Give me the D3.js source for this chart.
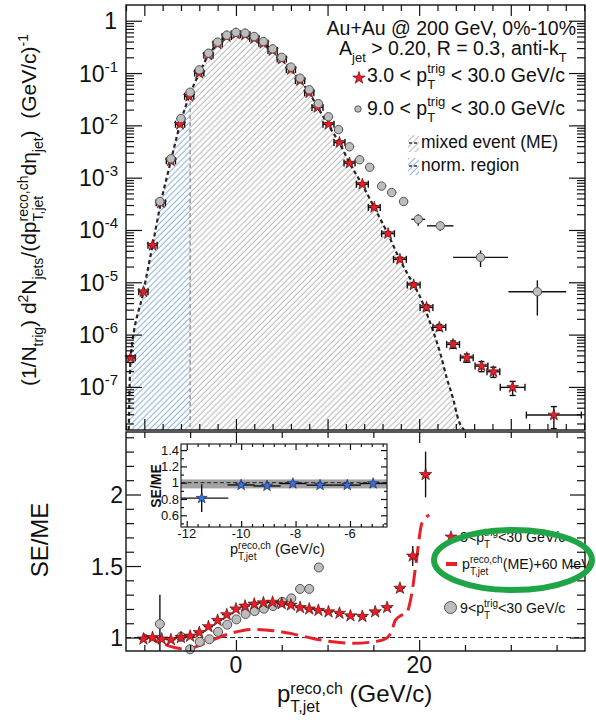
<!DOCTYPE html>
<html>
<head>
<meta charset="utf-8">
<script src="https://cdn.jsdelivr.net/npm/d3@7"></script>
<style>
  html, body { margin: 0; padding: 0; background: #fff; }
  svg { display: block; font-family: "Liberation Sans", Arial, Helvetica, sans-serif; }
  text { white-space: pre; fill: #111; }
</style>
</head>
<body>
<svg id="chart" width="596" height="722"></svg>
<script>
// ---------- upper panel: per-trigger jet yield ----------
// 3 < pT,trig < 30 GeV/c (red stars)
const redTopX = [-11.5, -10.1, -9.1, -8.2, -7.1, -6.1, -5.1, -4.0, -3.0, -2.0, -1.0, 0.0, 1.0, 2.0, 3.0, 4.0, 5.0, 6.0, 7.0, 8.0,
                 8.9, 10.1, 11.3, 12.4, 13.8, 15.1, 16.6, 17.9, 19.4, 20.8, 22.2, 23.7, 25.2, 26.8, 28.1, 30.2, 34.7];
const redTopY = [3.6e-7, 6.6e-6, 5.1e-5, 3.3e-4, 2.1e-3, 1.05e-2, 3.6e-2, 0.10, 0.22, 0.36, 0.50, 0.56, 0.54, 0.46, 0.37, 0.27, 0.185, 0.117, 0.072, 0.042,
                 0.022, 1.05e-2, 4.7e-3, 1.9e-3, 7.5e-4, 2.7e-4, 8.5e-5, 2.75e-5, 8.9e-6, 3.3e-6, 1.38e-6, 6.5e-7, 3.6e-7, 2.5e-7, 1.95e-7, 9.8e-8, 2.9e-8];
const redTopXErr = [0.5, 0.5, 0.5, 0.5, 0.5, 0.5, 0.5, 0.5, 0.5, 0.5, 0.5, 0.5, 0.5, 0.5, 0.5, 0.5, 0.5, 0.5, 0.5, 0.5,
                    0.6, 0.6, 0.6, 0.6, 0.65, 0.65, 0.7, 0.7, 0.7, 0.7, 0.7, 0.7, 0.7, 0.7, 0.7, 1.35, 3.0];
const redTopRelErr = [0.05, 0.05, 0.05, 0.05, 0.05, 0.05, 0.05, 0.05, 0.05, 0.05, 0.05, 0.05, 0.05, 0.05, 0.05, 0.05, 0.05, 0.05, 0.05, 0.05,
                      0.05, 0.05, 0.05, 0.05, 0.06, 0.07, 0.08, 0.09, 0.10, 0.12, 0.13, 0.16, 0.18, 0.22, 0.22, 0.30, 0.45];

// 9 < pT,trig < 30 GeV/c (grey circles)
const greyTopX = [-8.3, -7.1, -6.0, -5.0, -4.0, -3.0, -2.0, -1.0, 0.0, 1.0, 2.0, 3.0, 4.0, 5.0, 6.0, 7.0, 8.0, 9.0, 10.1, 11.2,
                  12.4, 13.5, 14.6, 15.9, 17.0, 18.3, 19.9, 22.3, 26.7, 32.9];
const greyTopY = [3.5e-4, 2.3e-3, 1.35e-2, 4.3e-2, 0.115, 0.24, 0.39, 0.53, 0.60, 0.58, 0.50, 0.40, 0.29, 0.20, 0.13, 0.08, 0.048, 0.026, 1.46e-2, 8.3e-3,
                  3.9e-3, 2.2e-3, 1.58e-3, 6.9e-4, 5.2e-4, 3.5e-4, 1.6e-4, 1.2e-4, 3.0e-5, 6.6e-6];
const greyTopXErr = [0.5, 0.5, 0.5, 0.5, 0.5, 0.5, 0.5, 0.5, 0.5, 0.5, 0.5, 0.5, 0.5, 0.5, 0.5, 0.5, 0.5, 0.5, 0.5, 0.5,
                     0.5, 0.5, 0.5, 0.5, 0.5, 0.5, 0.75, 1.45, 3.0, 3.15];
const greyTopRelErr = [0.05, 0.05, 0.05, 0.05, 0.05, 0.05, 0.05, 0.05, 0.05, 0.05, 0.05, 0.05, 0.05, 0.05, 0.05, 0.05, 0.05, 0.05, 0.05, 0.05,
                       0.05, 0.05, 0.05, 0.05, 0.05, 0.05, 0.25, 0.2, 0.35, 0.65];

// mixed-event (ME) distribution
const meX = [-11.7, -11.5, -10.1, -9.1, -8.2, -7.1, -6.1, -5.1, -4.0, -3.0, -2.0, -1.0, 0.0, 1.0, 2.0, 3.0, 4.0, 5.0, 6.0, 7.0, 8.0, 9.0,
             10.1, 11.3, 12.4, 13.8, 15.1, 16.6, 17.9, 19.4, 20.1, 20.8, 21.5, 22.3, 23.0, 23.7, 24.3, 24.9];
const meY = [1.5e-8, 3.6e-7, 6.6e-6, 5.1e-5, 3.3e-4, 2.1e-3, 1.05e-2, 3.6e-2, 0.10, 0.22, 0.36, 0.50, 0.56, 0.54, 0.46, 0.37, 0.27, 0.185, 0.117, 0.072, 0.042, 0.021,
             1.0e-2, 4.6e-3, 1.9e-3, 7.3e-4, 2.7e-4, 8.3e-5, 2.7e-5, 8.9e-6, 5.3e-6, 2.6e-6, 1.2e-6, 4.4e-7, 1.5e-7, 6.0e-8, 2.3e-8, 1.5e-8];
const normRegionEdge = -5;

const topTickExponents = [0, -1, -2, -3, -4, -5, -6, -7];

// ---------- lower panel: SE/ME ratio ----------
const redRatioX = [-10.1, -9.1, -8.1, -7.1, -6.0, -5.0, -4.0, -3.0, -2.0, -1.0, 0.0, 1.0, 2.0, 3.0, 4.0, 5.0, 6.0, 7.0, 8.0, 9.0,
                   10.1, 11.3, 12.5, 13.8, 15.2, 16.5, 17.9, 19.3, 20.7];
const redRatioY = [0.99, 1.0, 0.99, 0.985, 1.0, 1.01, 1.035, 1.076, 1.12, 1.16, 1.2, 1.22, 1.234, 1.243, 1.247, 1.237, 1.227, 1.21, 1.2, 1.19,
                   1.18, 1.17, 1.152, 1.148, 1.18, 1.21, 1.345, 1.57, 2.14];
const redRatioErr = [0.008, 0.008, 0.008, 0.008, 0.008, 0.008, 0.008, 0.008, 0.008, 0.008, 0.008, 0.008, 0.008, 0.008, 0.008, 0.008, 0.008, 0.008, 0.008, 0.008,
                     0.008, 0.008, 0.008, 0.01, 0.012, 0.015, 0.025, 0.07, 0.16];

const greyRatioX = [-8.3, -6.0, -5.0, -3.95, -2.9, -1.95, -0.95, 0.05, 1.05, 2.05, 3.05, 4.05, 5.05, 6.05, 7.0, 8.0, 9.05];
const greyRatioY = [1.095, 1.005, 0.918, 0.97, 0.988, 1.04, 1.09, 1.127, 1.165, 1.185, 1.202, 1.22, 1.25, 1.274, 1.34, 1.34, 1.49];
const greyRatioErr = [0.205, 0.01, 0.01, 0.01, 0.01, 0.01, 0.01, 0.01, 0.01, 0.01, 0.01, 0.01, 0.01, 0.01, 0.01, 0.01, 0.01];

// ratio with the ME spectrum shifted by +60 MeV
const shiftX = [-10.1, -9.0, -7.9, -6.7, -5.4, -3.9, -2.1, -0.3, 1.9, 4.1, 6.3, 8.4, 10.6, 12.8, 15.0, 16.3, 16.9, 17.4, 18.1, 18.6, 19.2, 19.7, 20.3, 21.1];
const shiftY = [1.02, 0.985, 0.955, 0.93, 0.918, 0.948, 0.995, 1.034, 1.057, 1.048, 1.024, 0.994, 0.97, 0.96, 0.97, 0.99, 1.03, 1.12, 1.157, 1.17, 1.31, 1.54, 1.8, 1.857];

const botXLabels = [0, 20];
const botYLabels = [1, 1.5, 2];

// ---------- inset: normalisation region ----------
const insetX = [-11.45, -10.0, -9.05, -8.1, -7.1, -6.1, -5.15];
const insetY = [0.81, 0.972, 0.96, 0.99, 0.97, 0.97, 0.99];
const insetXErr = [0.98, 0.5, 0.5, 0.5, 0.5, 0.5, 0.5];
const insetYErr = [0.17, 0.015, 0.015, 0.015, 0.015, 0.015, 0.015];
const insetBand = [0.93, 1.04];
const insetXLabels = [-12, -10, -8, -6];
const insetYLabels = [0.6, 0.8, 1, 1.2, 1.4];

// ---------- layout ----------
const L = 126, R = 585, T1 = 5, B1 = 430, T2 = 432, B2 = 651;
const IL = 181, IR = 387, IT = 444, IB = 527;
const RED = "#ee1d25", INK = "#111";

const svg = d3.select("#chart");
const defs = svg.append("defs");

const x = d3.scaleLinear().domain([-12, 38.1]).range([L, R]);
const yTop = d3.scaleLog().domain([1.5e-8, 2]).range([B1, T1]);
const yBot = d3.scaleLinear().domain([0.906, 2.437]).range([B2, T2]);
const xIn = d3.scaleLinear().domain([-12.21, -4.64]).range([IL, IR]);
const yIn = d3.scaleLinear().domain([0.456, 1.475]).range([IB, IT]);

function hatch(id, color) {
  const p = defs.append("pattern").attr("id", id).attr("patternUnits", "userSpaceOnUse")
    .attr("width", 4.2).attr("height", 4.2).attr("patternTransform", "rotate(45)");
  p.append("line").attr("x1", 2).attr("y1", -1).attr("x2", 2).attr("y2", 5.2)
    .attr("stroke", color).attr("stroke-width", 1.1);
}
hatch("hatchGrey", "#bdbdbd");
hatch("hatchBlue", "#93b5da");

function clip(id, x0, y0, x1, y1) {
  defs.append("clipPath").attr("id", id).append("rect")
    .attr("x", x0).attr("y", y0).attr("width", x1 - x0).attr("height", y1 - y0);
}
clip("clipTop", L, T1, R, B1);
clip("clipNorm", L, T1, x(normRegionEdge), B1);
clip("clipME", x(normRegionEdge), T1, R, B1);
clip("clipBot", L, T2, R, B2);
clip("clipIn", IL, IT, IR, IB);

// rich text with sub/superscripts; a third element "true" stacks the next piece at the same x
function rich(parent, parts, o) {
  const outer = parent.append("g").attr("transform", `translate(${o.x},${o.y}) rotate(${o.rotate || 0})`);
  const g = outer.append("g");
  const small = o.small || o.size * 0.65;
  const supDy = o.supDy !== undefined ? o.supDy : -o.size * 0.4;
  const subDy = o.subDy !== undefined ? o.subDy : o.size * 0.33;
  let cx = 0, stackStart = null, stackW = 0;
  parts.forEach(p => {
    const k = p[1] || "n";
    const fs = k === "n" ? o.size : small;
    const dy = k === "sup" ? supDy : k === "sub" ? subDy : 0;
    const t = g.append("text").attr("x", stackStart !== null ? stackStart : cx).attr("y", dy)
      .attr("font-size", fs).attr("font-weight", o.weight || "normal").text(p[0]);
    const w = t.node().getComputedTextLength();
    if (stackStart !== null) { cx = stackStart + Math.max(stackW, w); stackStart = null; }
    else if (p[2]) { stackStart = cx; stackW = w; }
    else cx += w;
  });
  const shift = o.anchor === "middle" ? -cx / 2 : o.anchor === "end" ? -cx : 0;
  g.attr("transform", `translate(${shift},0)`);
  return outer;
}

function ticks(parent, gen, tx, ty) {
  parent.append("g").attr("transform", `translate(${tx},${ty})`).attr("color", INK)
    .call(gen)
    .call(s => s.select(".domain").remove())
    .call(s => s.selectAll("text").remove())
    .call(s => s.selectAll("line").attr("stroke-width", 1.2));
}

const star = (size) => d3.symbol(d3.symbolStar, size)();

function errorBars(g, data, xs, ys, caps) {
  data.forEach(d => {
    const cy = ys(d.y), cx = xs(d.x);
    g.append("line").attr("x1", xs(d.x - d.xe)).attr("x2", xs(d.x + d.xe)).attr("y1", cy).attr("y2", cy);
    g.append("line").attr("x1", cx).attr("x2", cx).attr("y1", ys(d.ylo)).attr("y2", ys(d.yhi));
    if (caps) {
      [d.x - d.xe, d.x + d.xe].forEach(v => g.append("line").attr("x1", xs(v)).attr("x2", xs(v)).attr("y1", cy - 3.5).attr("y2", cy + 3.5));
      [d.ylo, d.yhi].forEach(v => g.append("line").attr("x1", cx - 3).attr("x2", cx + 3).attr("y1", ys(v)).attr("y2", ys(v)));
    }
  });
  g.attr("stroke", INK).attr("stroke-width", 1.4);
}

// =================== upper panel ===================
const upper = svg.append("g");
const meData = meX.map((v, i) => ({ x: v, y: meY[i] }));
const meArea = d3.area().x(d => x(d.x)).y0(B1).y1(d => yTop(d.y)).curve(d3.curveMonotoneX);
const meLine = d3.line().x(d => x(d.x)).y(d => yTop(d.y)).curve(d3.curveMonotoneX);

upper.append("path").datum(meData).attr("d", meArea).attr("fill", "url(#hatchBlue)").attr("clip-path", "url(#clipNorm)");
upper.append("path").datum(meData).attr("d", meArea).attr("fill", "url(#hatchGrey)").attr("clip-path", "url(#clipME)");

// boundary of the normalisation region, up to the ME curve
const iEdge = d3.bisectLeft(meX, normRegionEdge);
const edgeLog = d3.scaleLinear().domain([meX[iEdge - 1], meX[iEdge]])
  .range([Math.log10(meY[iEdge - 1]), Math.log10(meY[iEdge])])(normRegionEdge);
upper.append("line").attr("x1", x(normRegionEdge)).attr("x2", x(normRegionEdge))
  .attr("y1", yTop(Math.pow(10, edgeLog))).attr("y2", B1)
  .attr("stroke", "#9a9a9a").attr("stroke-width", 1.6).attr("stroke-dasharray", "4,3");

upper.append("path").datum(meData).attr("d", meLine).attr("fill", "none").attr("clip-path", "url(#clipTop)")
  .attr("stroke", "#262626").attr("stroke-width", 2.2).attr("stroke-dasharray", "4,3");

const redTop = redTopX.map((v, i) => ({ x: v, y: redTopY[i], xe: redTopXErr[i],
  ylo: redTopY[i] * (1 - redTopRelErr[i]), yhi: redTopY[i] * (1 + redTopRelErr[i]) }));
const greyTop = greyTopX.map((v, i) => ({ x: v, y: greyTopY[i], xe: greyTopXErr[i],
  ylo: greyTopY[i] * (1 - greyTopRelErr[i]), yhi: greyTopY[i] * (1 + greyTopRelErr[i]) }));

errorBars(upper.append("g").attr("clip-path", "url(#clipTop)"), redTop, x, yTop, true);
errorBars(upper.append("g").attr("clip-path", "url(#clipTop)"), greyTop, x, yTop, false);

upper.append("g").selectAll("path").data(redTop).join("path")
  .attr("d", star(42)).attr("transform", d => `translate(${x(d.x)},${yTop(d.y)})`)
  .attr("fill", RED).attr("stroke", "#3a0808").attr("stroke-width", 0.6);
upper.append("g").selectAll("circle").data(greyTop).join("circle")
  .attr("cx", d => x(d.x)).attr("cy", d => yTop(d.y)).attr("r", 4.2)
  .attr("fill", "#bdbdbd").attr("stroke", "#555").attr("stroke-width", 1);

// axes of the upper panel
const decades = topTickExponents.map(e => Math.pow(10, e));
const logMinor = [];
for (let e = -8; e <= 0; e++) for (let m = 2; m <= 9; m++) {
  const v = m * Math.pow(10, e);
  if (v > 1.5e-8 && v < 2) logMinor.push(v);
}
const xMajorTop = d3.range(-10, 31, 10);
const xMinorTop = d3.range(-12, 38.1, 2).filter(v => v % 10 !== 0);
ticks(upper, d3.axisLeft(yTop).tickValues(decades).tickSize(-16), L, 0);
ticks(upper, d3.axisLeft(yTop).tickValues(logMinor).tickSize(-8), L, 0);
ticks(upper, d3.axisRight(yTop).tickValues(decades).tickSize(-16), R, 0);
ticks(upper, d3.axisRight(yTop).tickValues(logMinor).tickSize(-8), R, 0);
ticks(upper, d3.axisBottom(x).tickValues(xMajorTop).tickSize(-11), 0, B1);
ticks(upper, d3.axisBottom(x).tickValues(xMinorTop).tickSize(-6), 0, B1);
ticks(upper, d3.axisTop(x).tickValues(xMajorTop).tickSize(-11), 0, T1);
ticks(upper, d3.axisTop(x).tickValues(xMinorTop).tickSize(-6), 0, T1);
upper.append("rect").attr("x", L).attr("y", T1).attr("width", R - L).attr("height", B1 - T1)
  .attr("fill", "none").attr("stroke", INK).attr("stroke-width", 1.4);

topTickExponents.forEach(e => {
  const yy = yTop(Math.pow(10, e)) + 8.5;
  if (e === 0) rich(upper, [["1"]], { x: 117, y: yy, size: 23, anchor: "end" });
  else rich(upper, [["10"], [String(e), "sup"]], { x: 118, y: yy, size: 23, small: 15, supDy: -10, anchor: "end" });
});

rich(svg, [["(1/N"], ["trig", "sub"], [") d"], ["2", "sup"], ["N"], ["jets", "sub"], ["/(dp"], ["reco,ch", "sup", true], ["T,jet", "sub"],
           ["d\u03b7"], ["jet", "sub"], [")  (GeV/c)"], ["-1", "sup"]],
     { x: 36, y: 210, size: 21, small: 14, supDy: -8, subDy: 7, anchor: "middle", rotate: -90 });

// legend of the upper panel
rich(svg, [["Au+Au @ 200 GeV, 0%-10%"]], { x: 576, y: 35, size: 19.5, anchor: "end" });
rich(svg, [["A"], ["jet", "sub"], [" > 0.20, R = 0.3, anti-k"], ["T", "sub"]], { x: 339, y: 55, size: 19.5, small: 13, subDy: 7 });
svg.append("path").attr("d", star(48)).attr("transform", "translate(359,78)").attr("fill", RED).attr("stroke", "#3a0808").attr("stroke-width", 0.6);
rich(svg, [["3.0 < p"], ["trig", "sup", true], ["T", "sub"], [" < 30.0 GeV/c"]], { x: 367, y: 82, size: 19.5, small: 13, supDy: -9, subDy: 7 });
svg.append("circle").attr("cx", 358).attr("cy", 109).attr("r", 3.2).attr("fill", "#bdbdbd").attr("stroke", "#555");
rich(svg, [["9.0 < p"], ["trig", "sup", true], ["T", "sub"], [" < 30.0 GeV/c"]], { x: 367, y: 115, size: 19.5, small: 13, supDy: -9, subDy: 7 });
[["hatchGrey", 135, "mixed event (ME)", 148], ["hatchBlue", 158, "norm. region", 171]].forEach(([pat, y0, label, base]) => {
  svg.append("rect").attr("x", 408).attr("y", y0).attr("width", 11).attr("height", 17).attr("fill", `url(#${pat})`);
  svg.append("line").attr("x1", 409).attr("x2", 419).attr("y1", y0 + 8).attr("y2", y0 + 8)
    .attr("stroke", "#333").attr("stroke-width", 1.6).attr("stroke-dasharray", "3,2");
  rich(svg, [[label]], { x: 421, y: base, size: 17.5 });
});

// =================== lower panel ===================
const lower = svg.append("g");
lower.append("line").attr("x1", L).attr("x2", R).attr("y1", yBot(1)).attr("y2", yBot(1))
  .attr("stroke", "#222").attr("stroke-width", 1).attr("stroke-dasharray", "5,3");

const shiftData = shiftX.map((v, i) => ({ x: v, y: shiftY[i] }));
lower.append("path").datum(shiftData).attr("clip-path", "url(#clipBot)")
  .attr("d", d3.line().x(d => x(d.x)).y(d => yBot(d.y)).curve(d3.curveMonotoneX))
  .attr("fill", "none").attr("stroke", "#e8202a").attr("stroke-width", 3).attr("stroke-dasharray", "17,7");

const redRatio = redRatioX.map((v, i) => ({ x: v, y: redRatioY[i], xe: 0.5, ylo: redRatioY[i] - redRatioErr[i], yhi: redRatioY[i] + redRatioErr[i] }));
const greyRatio = greyRatioX.map((v, i) => ({ x: v, y: greyRatioY[i], xe: 0.5, ylo: greyRatioY[i] - greyRatioErr[i], yhi: greyRatioY[i] + greyRatioErr[i] }));

errorBars(lower.append("g").attr("clip-path", "url(#clipBot)"), greyRatio, x, yBot, false);
lower.append("g").selectAll("circle").data(greyRatio).join("circle")
  .attr("cx", d => x(d.x)).attr("cy", d => yBot(d.y)).attr("r", 4.5)
  .attr("fill", "#bdbdbd").attr("stroke", "#555").attr("stroke-width", 1);
errorBars(lower.append("g").attr("clip-path", "url(#clipBot)"), redRatio, x, yBot, false);
lower.append("g").selectAll("path").data(redRatio).join("path")
  .attr("d", star(48)).attr("transform", d => `translate(${x(d.x)},${yBot(d.y)})`)
  .attr("fill", RED).attr("stroke", "#3a0808").attr("stroke-width", 0.6);

const xMajorBot = [0, 20];
const xMinorBot = d3.range(-10, 38, 5).filter(v => v % 20 !== 0);
const yMajorBot = [1, 1.5, 2];
const yMinorBot = d3.range(0.95, 2.44, 0.1).map(v => Math.round(v * 10) / 10).filter(v => v > 0.906 && !yMajorBot.includes(v));
ticks(lower, d3.axisLeft(yBot).tickValues(yMajorBot).tickSize(-15), L, 0);
ticks(lower, d3.axisLeft(yBot).tickValues(yMinorBot).tickSize(-8), L, 0);
ticks(lower, d3.axisRight(yBot).tickValues(yMajorBot).tickSize(-15), R, 0);
ticks(lower, d3.axisRight(yBot).tickValues(yMinorBot).tickSize(-8), R, 0);
ticks(lower, d3.axisBottom(x).tickValues(xMajorBot).tickSize(-11), 0, B2);
ticks(lower, d3.axisBottom(x).tickValues(xMinorBot).tickSize(-6), 0, B2);
ticks(lower, d3.axisTop(x).tickValues(xMajorBot).tickSize(-11), 0, T2);
ticks(lower, d3.axisTop(x).tickValues(xMinorBot).tickSize(-6), 0, T2);
lower.append("rect").attr("x", L).attr("y", T2).attr("width", R - L).attr("height", B2 - T2)
  .attr("fill", "none").attr("stroke", INK).attr("stroke-width", 1.4);

botXLabels.forEach(v => rich(lower, [[String(v)]], { x: x(v), y: 673, size: 23, anchor: "middle" }));
botYLabels.forEach(v => rich(lower, [[String(v)]], { x: 123, y: yBot(v) + 8.5, size: 23, anchor: "end" }));

rich(svg, [["SE/ME"]], { x: 48, y: 540, size: 24, anchor: "middle", rotate: -90 });
rich(svg, [["p"], ["reco,ch", "sup", true], ["T,jet", "sub"], [" (GeV/c)"]],
     { x: 277, y: 702, size: 24, small: 16, supDy: -8, subDy: 9.5 });

// ---------- inset ----------
const ins = svg.append("g");
ins.append("rect").attr("x", IL).attr("y", IT).attr("width", IR - IL).attr("height", IB - IT).attr("fill", "#fff");
ins.append("rect").attr("x", IL).attr("y", yIn(insetBand[1])).attr("width", IR - IL)
  .attr("height", yIn(insetBand[0]) - yIn(insetBand[1])).attr("fill", "#a3a3a3");
ins.append("line").attr("x1", IL).attr("x2", IR).attr("y1", yIn(1)).attr("y2", yIn(1))
  .attr("stroke", "#222").attr("stroke-width", 1).attr("stroke-dasharray", "4,2.5");
const insetData = insetX.map((v, i) => ({ x: v, y: insetY[i], xe: insetXErr[i], ylo: insetY[i] - insetYErr[i], yhi: insetY[i] + insetYErr[i] }));
errorBars(ins.append("g").attr("clip-path", "url(#clipIn)"), insetData, xIn, yIn, false);
ins.append("g").selectAll("path").data(insetData).join("path")
  .attr("d", star(38)).attr("transform", d => `translate(${xIn(d.x)},${yIn(d.y)})`)
  .attr("fill", "#3b6fe0").attr("stroke", "#0d1b44").attr("stroke-width", 0.6);

const inXMinor = d3.range(-12, -4.6, 0.4).filter(v => !insetXLabels.some(l => Math.abs(l - v) < 1e-6));
const inYMinor = d3.range(0.5, 1.48, 0.1).filter(v => !insetYLabels.some(l => Math.abs(l - v) < 1e-6));
ticks(ins, d3.axisLeft(yIn).tickValues(insetYLabels).tickSize(-6), IL, 0);
ticks(ins, d3.axisLeft(yIn).tickValues(inYMinor).tickSize(-3), IL, 0);
ticks(ins, d3.axisRight(yIn).tickValues(insetYLabels).tickSize(-6), IR, 0);
ticks(ins, d3.axisRight(yIn).tickValues(inYMinor).tickSize(-3), IR, 0);
ticks(ins, d3.axisBottom(xIn).tickValues(insetXLabels).tickSize(-6), 0, IB);
ticks(ins, d3.axisBottom(xIn).tickValues(inXMinor).tickSize(-3), 0, IB);
ticks(ins, d3.axisTop(xIn).tickValues(insetXLabels).tickSize(-6), 0, IT);
ticks(ins, d3.axisTop(xIn).tickValues(inXMinor).tickSize(-3), 0, IT);
ins.append("rect").attr("x", IL).attr("y", IT).attr("width", IR - IL).attr("height", IB - IT)
  .attr("fill", "none").attr("stroke", INK).attr("stroke-width", 1.1);

insetYLabels.forEach(v => rich(ins, [[String(v)]], { x: 179, y: yIn(v) + 4.7, size: 13, anchor: "end" }));
insetXLabels.forEach(v => rich(ins, [[String(v)]], { x: xIn(v), y: 538, size: 13, anchor: "middle" }));
rich(ins, [["SE/ME"]], { x: 161, y: 486, size: 14, anchor: "middle", rotate: -90, weight: "bold" });
rich(ins, [["p"], ["reco,ch", "sup", true], ["T,jet", "sub"], [" (GeV/c)"]],
     { x: 230, y: 554, size: 14.5, small: 10, supDy: -5.5, subDy: 6 });

// ---------- legend of the lower panel ----------
svg.append("path").attr("d", star(44)).attr("transform", "translate(451,537)").attr("fill", RED).attr("stroke", "#3a0808").attr("stroke-width", 0.6);
rich(svg, [["3<p"], ["trig", "sup", true], ["T", "sub"], ["<30 GeV/c"]], { x: 460, y: 542, size: 14.2, small: 10, supDy: -6.5, subDy: 5.5 });
svg.append("line").attr("x1", 446).attr("x2", 457).attr("y1", 564).attr("y2", 564).attr("stroke", "#e8202a").attr("stroke-width", 4);
rich(svg, [["p"], ["reco,ch", "sup", true], ["T,jet", "sub"], ["(ME)+60 MeV"]], { x: 462, y: 569, size: 14.2, small: 10, supDy: -6.5, subDy: 5.5 });
svg.append("circle").attr("cx", 450.5).attr("cy", 607.5).attr("r", 6).attr("fill", "#bdbdbd").attr("stroke", "#555");
rich(svg, [["9<p"], ["trig", "sup", true], ["T", "sub"], ["<30 GeV/c"]], { x: 460, y: 613, size: 14.2, small: 10, supDy: -6.5, subDy: 5.5 });

svg.append("ellipse").attr("cx", 513).attr("cy", 560).attr("rx", 79).attr("ry", 30)
  .attr("fill", "none").attr("stroke", "#1fa446").attr("stroke-width", 6);
</script>
</body>
</html>
